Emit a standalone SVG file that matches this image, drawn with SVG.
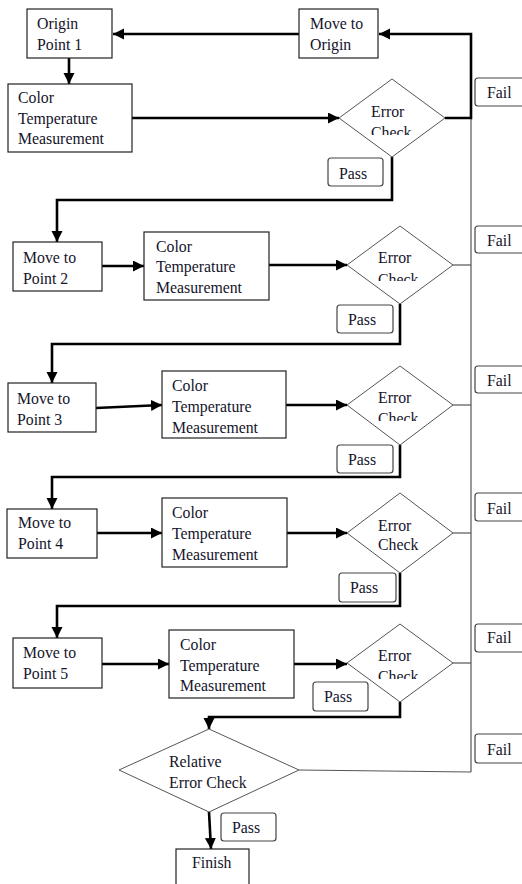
<svg xmlns="http://www.w3.org/2000/svg" width="522" height="884" viewBox="0 0 522 884">
<style>
  .box{fill:#fff;stroke:#222;stroke-width:1.2}
  .dia{fill:#fff;stroke:#555;stroke-width:1}
  .lbl{fill:#fff;stroke:#444;stroke-width:1.2}
  .c{fill:none;stroke:#000;stroke-width:2.6}
  .t{fill:none;stroke:#555;stroke-width:1.2}
</style>
<defs>
  <marker id="ah" markerUnits="userSpaceOnUse" markerWidth="12" markerHeight="12" refX="11" refY="5.5" orient="auto">
    <path d="M0,0 L11,5.5 L0,11 Z" fill="#000"/>
  </marker>
  <clipPath id="k1"><rect x="340" y="80" width="110" height="55"/></clipPath>
  <clipPath id="k2"><rect x="340" y="220" width="120" height="61"/></clipPath>
  <clipPath id="k3"><rect x="340" y="360" width="120" height="61"/></clipPath>
  <clipPath id="k5"><rect x="340" y="620" width="120" height="59"/></clipPath>
</defs>

<g id="connectors">
  <path class="t" d="M471,118 L471,772"/>
  <path class="c" d="M299,34 L113,34" marker-end="url(#ah)"/>
  <path class="c" d="M69,58 L69,84" marker-end="url(#ah)"/>
  <path class="c" d="M132,118 L339,118" marker-end="url(#ah)"/>
  <path class="c" d="M445,118 L471,118 L471,34 L379,34" marker-end="url(#ah)"/>
  <path class="c" d="M392,157 L392,200 L57,200 L57,242" marker-end="url(#ah)"/>
  <path class="c" d="M102,266 L144,266" marker-end="url(#ah)"/>
  <path class="c" d="M269,265 L347,265" marker-end="url(#ah)"/>
  <path class="t" d="M453,265 L471,265"/>
  <path class="c" d="M400,304 L400,344 L52,344 L52,383" marker-end="url(#ah)"/>
  <path class="c" d="M96,408 L162,405" marker-end="url(#ah)"/>
  <path class="c" d="M286,405 L347,405" marker-end="url(#ah)"/>
  <path class="t" d="M453,405 L471,405"/>
  <path class="c" d="M400,445 L400,477 L52,477 L52,509" marker-end="url(#ah)"/>
  <path class="c" d="M97,533 L162,533" marker-end="url(#ah)"/>
  <path class="c" d="M287,533 L347,533" marker-end="url(#ah)"/>
  <path class="t" d="M453,533 L471,533"/>
  <path class="c" d="M400,573 L400,606 L57,606 L57,638" marker-end="url(#ah)"/>
  <path class="c" d="M102,664 L169,664" marker-end="url(#ah)"/>
  <path class="c" d="M294,664 L347,664" marker-end="url(#ah)"/>
  <path class="t" d="M453,663 L471,663"/>
  <path class="c" d="M400,702 L400,717 L209,717 L209,729" marker-end="url(#ah)"/>
  <path class="t" d="M299,770 L471,772"/>
  <path class="c" d="M209,812 L211,849" marker-end="url(#ah)"/>
</g>

<g font-family="Liberation Serif, Times New Roman, serif" font-size="15.8" fill="#14142a">
<g id="origin-point-1"><rect class="box" x="27" y="9" width="85" height="49"/><text x="37" y="29">Origin</text><text x="37" y="50">Point 1</text></g>
<g id="move-to-origin"><rect class="box" x="299" y="9" width="79" height="49"/><text x="310" y="29">Move to</text><text x="310" y="50">Origin</text></g>

<g id="ct1"><rect class="box" x="8" y="84" width="124" height="68"/><text x="18" y="103">Color</text><text x="18" y="124">Temperature</text><text x="18" y="144">Measurement</text></g>
<g id="check1"><path class="dia" d="M392,79 L445,118 L392,157 L339,118 Z"/><text x="371" y="117">Error</text><text x="371" y="138" clip-path="url(#k1)">Check</text></g>
<g id="pass1"><rect class="lbl" x="328" y="158" width="55" height="28" rx="3"/><text x="339" y="179">Pass</text></g>
<g id="fail1"><rect class="lbl" x="475" y="78" width="52" height="28" rx="3"/><text x="487" y="98">Fail</text></g>

<g id="move-to-point-2"><rect class="box" x="13" y="242" width="89" height="49"/><text x="23" y="263">Move to</text><text x="23" y="284">Point 2</text></g>
<g id="ct2"><rect class="box" x="144" y="232" width="125" height="68"/><text x="156" y="252">Color</text><text x="156" y="272">Temperature</text><text x="156" y="293">Measurement</text></g>
<g id="check2"><path class="dia" d="M400,226 L453,265 L400,304 L347,265 Z"/><text x="378" y="263">Error</text><text x="378" y="285" clip-path="url(#k2)">Check</text></g>
<g id="pass2"><rect class="lbl" x="337" y="305" width="56" height="28" rx="3"/><text x="348" y="325">Pass</text></g>
<g id="fail2"><rect class="lbl" x="475" y="226" width="52" height="27" rx="3"/><text x="487" y="246">Fail</text></g>

<g id="move-to-point-3"><rect class="box" x="8" y="383" width="88" height="49"/><text x="17" y="404">Move to</text><text x="17" y="425">Point 3</text></g>
<g id="ct3"><rect class="box" x="162" y="371" width="124" height="67"/><text x="172" y="391">Color</text><text x="172" y="412">Temperature</text><text x="172" y="433">Measurement</text></g>
<g id="check3"><path class="dia" d="M400,366 L453,405 L400,445 L347,405 Z"/><text x="378" y="403">Error</text><text x="378" y="424" clip-path="url(#k3)">Check</text></g>
<g id="pass3"><rect class="lbl" x="337" y="445" width="56" height="28" rx="3"/><text x="348" y="465">Pass</text></g>
<g id="fail3"><rect class="lbl" x="475" y="366" width="52" height="27" rx="3"/><text x="487" y="386">Fail</text></g>

<g id="move-to-point-4"><rect class="box" x="7" y="509" width="90" height="49"/><text x="18" y="528">Move to</text><text x="18" y="549">Point 4</text></g>
<g id="ct4"><rect class="box" x="162" y="498" width="125" height="69"/><text x="172" y="518">Color</text><text x="172" y="539">Temperature</text><text x="172" y="560">Measurement</text></g>
<g id="check4"><path class="dia" d="M400,493 L453,533 L400,573 L347,533 Z"/><text x="378" y="531">Error</text><text x="378" y="550">Check</text></g>
<g id="pass4"><rect class="lbl" x="339" y="573" width="57" height="29" rx="3"/><text x="350" y="593">Pass</text></g>
<g id="fail4"><rect class="lbl" x="475" y="493" width="52" height="28" rx="3"/><text x="487" y="514">Fail</text></g>

<g id="move-to-point-5"><rect class="box" x="13" y="638" width="89" height="50"/><text x="23" y="658">Move to</text><text x="23" y="679">Point 5</text></g>
<g id="ct5"><rect class="box" x="169" y="630" width="125" height="68"/><text x="180" y="650">Color</text><text x="180" y="671">Temperature</text><text x="180" y="691">Measurement</text></g>
<g id="check5"><path class="dia" d="M400,624 L453,663 L400,702 L347,663 Z"/><text x="378" y="661">Error</text><text x="378" y="682" clip-path="url(#k5)">Check</text></g>
<g id="pass5"><rect class="lbl" x="313" y="682" width="55" height="29" rx="3"/><text x="324" y="702">Pass</text></g>
<g id="fail5"><rect class="lbl" x="475" y="624" width="52" height="28" rx="3"/><text x="487" y="643">Fail</text></g>

<g id="relative-check"><path class="dia" d="M209,729 L299,770 L209,812 L119,770 Z"/><text x="169" y="767">Relative</text><text x="169" y="788">Error Check</text></g>
<g id="pass6"><rect class="lbl" x="221" y="813" width="55" height="28" rx="3"/><text x="232" y="833">Pass</text></g>
<g id="fail6"><rect class="lbl" x="475" y="734" width="52" height="29" rx="3"/><text x="487" y="755">Fail</text></g>
<g id="finish"><rect class="box" x="176" y="849" width="73" height="45"/><text x="192" y="868">Finish</text></g>
</g>
</svg>
